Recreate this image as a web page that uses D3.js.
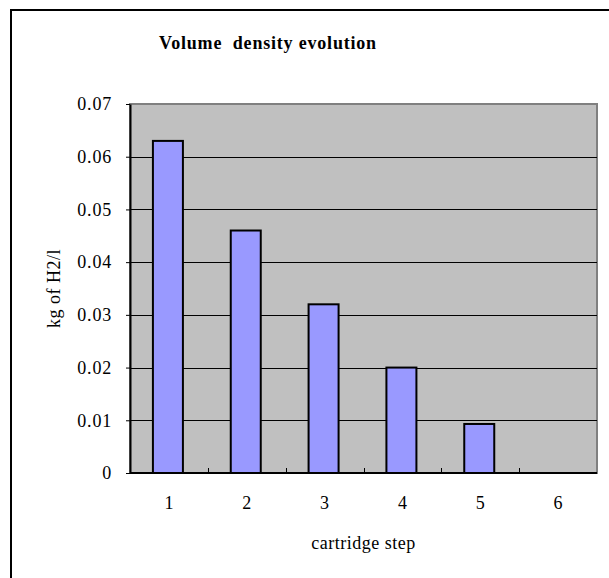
<!DOCTYPE html>
<html>
<head>
<meta charset="utf-8">
<script src="https://cdn.jsdelivr.net/npm/d3@7"></script>
<style>
  body { margin: 0; background: #fff; }
  svg text { font-family: 'Liberation Serif', 'DejaVu Serif', 'Times New Roman', Times, serif !important; fill: #000; }
</style>
</head>
<body>
<div id="chart"></div>
<script>
// data
var steps = ['1', '2', '3', '4', '5', '6'];
var density = [0.063, 0.046, 0.032, 0.020, 0.0093, 0];
var y_ticks = [0, 0.01, 0.02, 0.03, 0.04, 0.05, 0.06, 0.07];

var width = 609, height = 578;
var plot = { left: 130, top: 104, right: 597, bottom: 473 };
var font_size = '18px';

var svg = d3.select('#chart').append('svg')
    .attr('width', width).attr('height', height);

// outer chart frame (runs past the right and bottom edge)
svg.append('rect')
    .attr('x', 11).attr('y', 10)
    .attr('width', 640).attr('height', 640)
    .attr('fill', '#fff').attr('stroke', '#000').attr('stroke-width', 2);

var x_scale = d3.scaleBand().domain(steps).range([plot.left, plot.right]);
var y_scale = d3.scaleLinear().domain([0, 0.07]).range([plot.bottom, plot.top]);

// plot area
svg.append('rect')
    .attr('x', plot.left).attr('y', plot.top)
    .attr('width', plot.right - plot.left).attr('height', plot.bottom - plot.top)
    .attr('fill', '#c0c0c0').attr('stroke', '#808080').attr('stroke-width', 2);

// gridlines
svg.append('g').selectAll('line')
    .data(y_ticks.filter(d => d > 0 && d < 0.07))
    .join('line')
    .attr('x1', plot.left).attr('x2', plot.right)
    .attr('y1', d => Math.round(y_scale(d)) + 0.5).attr('y2', d => Math.round(y_scale(d)) + 0.5)
    .attr('stroke', '#000').attr('stroke-width', 1);

// bars
var bar_w = 30;
svg.append('g').selectAll('rect')
    .data(density.map((v, i) => ({ step: steps[i], value: v })).filter(d => d.value > 0))
    .join('rect')
    .attr('x', d => x_scale(d.step) + x_scale.bandwidth() / 2 - bar_w / 2 - 1)
    .attr('y', d => y_scale(d.value))
    .attr('width', bar_w)
    .attr('height', d => y_scale(0) - y_scale(d.value))
    .attr('fill', '#9999ff').attr('stroke', '#000').attr('stroke-width', 2);

// y axis
var y_axis = svg.append('g')
    .attr('transform', 'translate(' + plot.left + ',0)')
    .call(d3.axisLeft(y_scale).tickValues(y_ticks).tickSizeInner(4).tickSizeOuter(0)
        .tickFormat(d => d === 0 ? '0' : d3.format('.2f')(d)).tickPadding(14));
y_axis.attr('font-family', null).attr('font-size', null);
y_axis.select('.domain').attr('stroke', '#000').attr('stroke-width', 2);
y_axis.selectAll('.tick line').attr('stroke', '#000');
y_axis.selectAll('text').style('font-size', font_size).style('letter-spacing', '0.8px').attr('fill', '#000');

// x axis: ticks sit between categories, pointing up
var x_axis = svg.append('g')
    .attr('transform', 'translate(0,' + plot.bottom + ')');
x_axis.append('line')
    .attr('x1', plot.left).attr('x2', plot.right)
    .attr('stroke', '#000').attr('stroke-width', 2);
x_axis.selectAll('.sep')
    .data(steps.slice(1))
    .join('line').attr('class', 'sep')
    .attr('x1', d => Math.round(x_scale(d)) + 0.5).attr('x2', d => Math.round(x_scale(d)) + 0.5)
    .attr('y1', 0).attr('y2', -5)
    .attr('stroke', '#000');
x_axis.selectAll('.lbl')
    .data(steps)
    .join('text').attr('class', 'lbl')
    .attr('x', d => x_scale(d) + x_scale.bandwidth() / 2)
    .attr('y', 36)
    .attr('text-anchor', 'middle')
    .style('font-size', font_size)
    .text(d => d);

// axis titles
svg.append('text')
    .attr('x', (plot.left + plot.right) / 2).attr('y', 549)
    .attr('text-anchor', 'middle').style('font-size', font_size).style('letter-spacing', '0.5px')
    .text('cartridge step');
svg.append('text')
    .attr('transform', 'translate(54,' + (plot.top + plot.bottom) / 2 + ') rotate(-90)')
    .attr('text-anchor', 'middle').attr('dy', '0.35em').style('font-size', font_size).style('letter-spacing', '0.5px')
    .text('kg of H2/l');

// title
svg.append('text')
    .attr('x', 268).attr('y', 49)
    .attr('text-anchor', 'middle')
    .style('font-size', font_size).style('font-weight', 'bold').style('letter-spacing', '0.8px')
    .style('white-space', 'pre')
    .text('Volume  density evolution');
</script>
</body>
</html>
